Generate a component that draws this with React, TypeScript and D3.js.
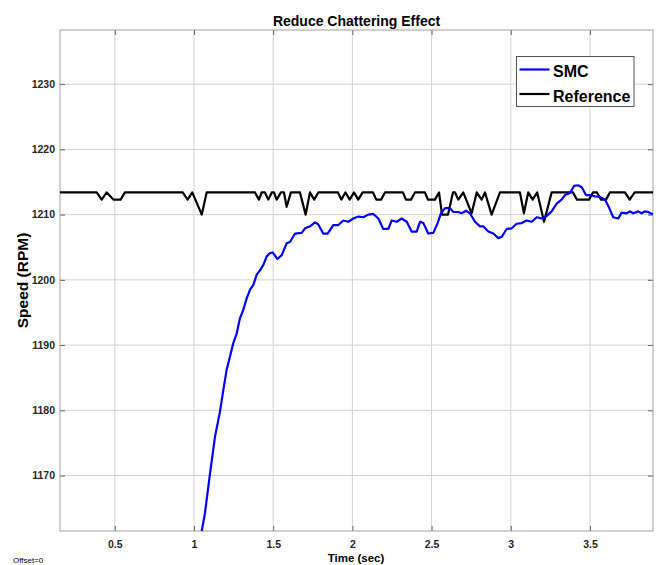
import React, { useEffect, useRef } from "react";
import * as d3 from "d3";

// SMC response (blue)
const smcTime = [
  1.03, 1.049, 1.069, 1.101, 1.133, 1.164, 1.185, 1.206, 1.227, 1.248,
  1.27, 1.29, 1.311, 1.333, 1.354, 1.374, 1.396, 1.417, 1.438, 1.459,
  1.48, 1.497, 1.526, 1.554, 1.585, 1.606, 1.638, 1.68, 1.701, 1.732,
  1.764, 1.785, 1.816, 1.844, 1.879, 1.911, 1.943, 1.974, 2.006, 2.037,
  2.069, 2.1, 2.132, 2.164, 2.195, 2.227, 2.248, 2.28, 2.311, 2.343,
  2.374, 2.406, 2.427, 2.448, 2.479, 2.511, 2.538, 2.559, 2.585, 2.616,
  2.637, 2.669, 2.69, 2.717, 2.742, 2.774, 2.806, 2.826, 2.858, 2.89,
  2.921, 2.943, 2.974, 3.006, 3.037, 3.069, 3.1, 3.132, 3.164, 3.195,
  3.227, 3.258, 3.29, 3.321, 3.342, 3.374, 3.399, 3.426, 3.448, 3.475,
  3.5, 3.532, 3.563, 3.595, 3.622, 3.647, 3.679, 3.7, 3.732, 3.753,
  3.773, 3.805, 3.826, 3.847, 3.868, 3.89, 3.91,
];
const smcSpeed = [
  1158.5, 1161.5, 1164.2, 1170.3, 1176.0, 1179.8, 1183.1, 1186.2, 1188.2, 1190.3,
  1191.8, 1194.1, 1195.4, 1197.2, 1198.5, 1199.2, 1200.8, 1201.5, 1202.3, 1203.6,
  1204.1, 1204.2, 1203.2, 1203.8, 1205.6, 1205.8, 1207.1, 1207.2, 1207.9, 1208.2,
  1208.8, 1208.5, 1207.1, 1207.1, 1208.4, 1208.4, 1209.1, 1208.9, 1209.4, 1209.7,
  1209.6, 1210.0, 1210.1, 1209.4, 1207.8, 1207.8, 1209.1, 1208.9, 1209.4, 1208.9,
  1207.4, 1207.4, 1208.9, 1208.7, 1207.1, 1207.2, 1208.7, 1210.2, 1211.0, 1211.0,
  1210.4, 1210.4, 1210.2, 1210.6, 1210.2, 1208.9, 1208.2, 1208.2, 1207.4, 1207.1,
  1206.4, 1206.6, 1207.8, 1207.9, 1208.6, 1208.7, 1209.1, 1208.9, 1209.6, 1209.4,
  1209.8, 1210.5, 1211.7, 1212.3, 1213.0, 1213.3, 1214.4, 1214.5, 1214.2, 1213.0,
  1213.0, 1212.8, 1212.7, 1212.3, 1211.0, 1209.6, 1209.4, 1210.3, 1210.2, 1210.5,
  1210.2, 1210.5, 1210.2, 1210.5, 1210.4, 1210.1, 1210.2,
];

// Reference speed (black)
const refTime = [
  0.15, 0.386, 0.417, 0.449, 0.491, 0.537, 0.564, 0.929, 0.96, 0.989,
  1.049, 1.08, 1.385, 1.41, 1.427, 1.448, 1.469, 1.491, 1.505, 1.522,
  1.549, 1.568, 1.585, 1.612, 1.669, 1.705, 1.732, 1.759, 1.785, 1.909,
  1.93, 1.956, 1.983, 2.01, 2.037, 2.065, 2.13, 2.151, 2.181, 2.206,
  2.319, 2.338, 2.37, 2.395, 2.458, 2.477, 2.521, 2.547, 2.566, 2.604,
  2.635, 2.648, 2.669, 2.7, 2.753, 2.785, 2.816, 2.837, 2.879, 2.932,
  3.058, 3.083, 3.11, 3.138, 3.167, 3.21, 3.258, 3.393, 3.418, 3.494,
  3.519, 3.544, 3.57, 3.601, 3.626, 3.721, 3.751, 3.782, 3.91,
];
const refSpeed = [
  1213.4, 1213.4, 1212.3, 1213.4, 1212.3, 1212.3, 1213.4, 1213.4, 1212.3, 1213.4,
  1210.0, 1213.4, 1213.4, 1212.3, 1213.4, 1213.4, 1212.3, 1213.4, 1213.4, 1212.3,
  1213.4, 1213.4, 1211.2, 1213.4, 1213.4, 1210.0, 1213.4, 1212.3, 1213.4, 1213.4,
  1212.3, 1213.4, 1212.3, 1213.4, 1212.3, 1213.4, 1213.4, 1212.3, 1212.3, 1213.4,
  1213.4, 1212.3, 1212.3, 1213.4, 1213.4, 1212.3, 1212.3, 1213.4, 1210.0, 1210.0,
  1213.4, 1213.4, 1212.3, 1213.4, 1210.2, 1213.4, 1212.3, 1213.4, 1210.0, 1213.4,
  1213.4, 1210.2, 1213.4, 1212.3, 1213.4, 1208.9, 1213.4, 1213.4, 1212.3, 1212.3,
  1213.4, 1213.4, 1212.3, 1212.3, 1213.4, 1213.4, 1212.3, 1213.4, 1213.4,
];

const xTicks = [0.5, 1, 1.5, 2, 2.5, 3, 3.5];
const yTicks = [1170, 1180, 1190, 1200, 1210, 1220, 1230];
const seriesNames = ["SMC", "Reference"];
const seriesColors = ["#0000ff", "#000000"];

const width = 658;
const height = 565;
const margin = { top: 30, right: 5, bottom: 34, left: 60 };
const font = "'Liberation Sans', Arial, sans-serif";

export default function App() {
  const svgRef = useRef<SVGSVGElement>(null);

  useEffect(() => {
    const svg = d3.select(svgRef.current);
    svg.selectAll("*").remove();

    const plotW = width - margin.left - margin.right;
    const plotH = height - margin.top - margin.bottom;

    const x = d3.scaleLinear().domain([0.154, 3.898]).range([0, plotW]);
    const y = d3.scaleLinear().domain([1161.5, 1238.3]).range([plotH, 0]);

    svg.append("rect").attr("width", width).attr("height", height).attr("fill", "#fff");

    svg
      .append("defs")
      .append("clipPath")
      .attr("id", "plot-clip")
      .append("rect")
      .attr("width", plotW)
      .attr("height", plotH);

    const g = svg.append("g").attr("transform", `translate(${margin.left},${margin.top})`);

    // grid
    g.append("g")
      .selectAll("line")
      .data(xTicks)
      .join("line")
      .attr("x1", (d) => x(d))
      .attr("x2", (d) => x(d))
      .attr("y1", 0)
      .attr("y2", plotH)
      .attr("stroke", "#d2d2d2");
    g.append("g")
      .selectAll("line")
      .data(yTicks)
      .join("line")
      .attr("x1", 0)
      .attr("x2", plotW)
      .attr("y1", (d) => y(d))
      .attr("y2", (d) => y(d))
      .attr("stroke", "#d2d2d2");

    // axes (inward ticks on all four sides)
    const styleAxis = (sel: any) => {
      sel.select(".domain").remove();
      sel.selectAll("line").attr("stroke", "#666");
      sel
        .selectAll("text")
        .attr("fill", "#262626")
        .style("font-family", font)
        .style("font-size", "10.5px")
        .style("font-weight", "bold");
    };

    g.append("g")
      .attr("transform", `translate(0,${plotH})`)
      .call(d3.axisBottom(x).tickValues(xTicks).tickSize(-5).tickPadding(9.5).tickFormat(d3.format("")))
      .call(styleAxis);
    g.append("g")
      .call(d3.axisTop(x).tickValues(xTicks).tickSize(-5).tickFormat(() => ""))
      .call(styleAxis);
    g.append("g")
      .call(d3.axisLeft(y).tickValues(yTicks).tickSize(-5).tickPadding(5).tickFormat(d3.format("d")))
      .call(styleAxis);
    g.append("g")
      .attr("transform", `translate(${plotW},0)`)
      .call(d3.axisRight(y).tickValues(yTicks).tickSize(-5).tickFormat(() => ""))
      .call(styleAxis);

    // box
    g.append("rect")
      .attr("width", plotW)
      .attr("height", plotH)
      .attr("fill", "none")
      .attr("stroke", "#a0a0a0");

    const line = d3
      .line<[number, number]>()
      .x((d) => x(d[0]))
      .y((d) => y(d[1]));

    const lines = g.append("g").attr("clip-path", "url(#plot-clip)");
    lines
      .append("path")
      .datum(refTime.map((t, i) => [t, refSpeed[i]] as [number, number]))
      .attr("d", line)
      .attr("fill", "none")
      .attr("stroke", seriesColors[1])
      .attr("stroke-width", 2.2)
      .attr("stroke-linejoin", "round");
    lines
      .append("path")
      .datum(smcTime.map((t, i) => [t, smcSpeed[i]] as [number, number]))
      .attr("d", line)
      .attr("fill", "none")
      .attr("stroke", seriesColors[0])
      .attr("stroke-width", 2.2)
      .attr("stroke-linejoin", "round");

    // legend
    const lg = svg.append("g").attr("transform", "translate(516.5,56.5)");
    lg.append("rect")
      .attr("width", 117.5)
      .attr("height", 50)
      .attr("fill", "#fff")
      .attr("stroke", "#555");
    seriesNames.forEach((name, i) => {
      const cy = 13 + i * 24.5;
      lg.append("line")
        .attr("x1", 3)
        .attr("x2", 33)
        .attr("y1", cy)
        .attr("y2", cy)
        .attr("stroke", seriesColors[i])
        .attr("stroke-width", 2.2);
      lg.append("text")
        .attr("x", 36.5)
        .attr("y", cy + 7.5)
        .attr("fill", "#000")
        .style("font-family", font)
        .style("font-size", "16px")
        .style("font-weight", "bold")
        .text(name);
    });

    // titles
    svg.append("text")
      .attr("x", margin.left + plotW / 2)
      .attr("y", 26)
      .attr("text-anchor", "middle")
      .style("font-family", font)
      .style("font-size", "14px")
      .style("font-weight", "bold")
      .text("Reduce Chattering Effect");

    svg.append("text")
      .attr("transform", `translate(28,${margin.top + plotH / 2}) rotate(-90)`)
      .attr("text-anchor", "middle")
      .style("font-family", font)
      .style("font-size", "15.5px")
      .style("font-weight", "bold")
      .text("Speed (RPM)");

    svg.append("text")
      .attr("x", 356)
      .attr("y", 562)
      .attr("text-anchor", "middle")
      .style("font-family", font)
      .style("font-size", "11.5px")
      .style("font-weight", "bold")
      .text("Time (sec)");

    svg.append("text")
      .attr("x", 13)
      .attr("y", 563)
      .style("font-family", font)
      .style("font-size", "8px")
      .text("Offset=0");
  }, []);

  return (
    <svg
      ref={svgRef}
      width={width}
      height={height}
      style={{ position: "absolute", left: 0, top: 0, display: "block" }}
    />
  );
}
